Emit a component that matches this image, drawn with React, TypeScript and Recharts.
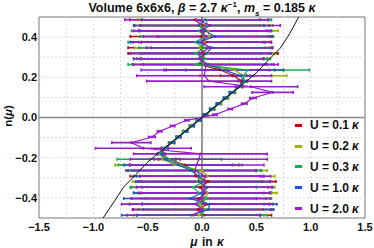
import React from 'react';
import { ScatterChart, Scatter, XAxis, YAxis, ErrorBar, ReferenceLine, ReferenceArea } from 'recharts';

// particle number levels n = (2k+1)/72
const nLevels = [
  -0.486, -0.458, -0.431, -0.403, -0.375, -0.347, -0.319, -0.292, -0.264, -0.236, -0.208, -0.181,
  -0.153, -0.125, -0.097, -0.069, -0.042, -0.014, 0.014, 0.042, 0.069, 0.097, 0.125, 0.153,
  0.181, 0.208, 0.236, 0.264, 0.292, 0.319, 0.347, 0.375, 0.403, 0.431, 0.458, 0.486,
];

const muU01 = [0.02, -0.04, 0.05, -0.03, 0.04, -0.02, 0.06, -0.06, -0.07, -0.16, -0.3, -0.37, -0.34, -0.28, -0.215, -0.155, -0.095, -0.03, 0.03, 0.095, 0.155, 0.22, 0.28, 0.34, 0.37, 0.29, 0.17, -0.02, 0.02, 0.01, -0.02, 0.04, -0.01, 0.03, 0.0, -0.065];
const errU01 = [0.62, 0.6, 0.6, 0.62, 0.6, 0.63, 0.62, 0.6, 0.61, 0.5, 0.1, 0.03, 0.03, 0.025, 0.02, 0.02, 0.02, 0.02, 0.02, 0.02, 0.02, 0.02, 0.025, 0.03, 0.04, 0.12, 0.5, 0.62, 0.58, 0.69, 0.66, 0.6, 0.65, 0.6, 0.62, 0.6];

const muU02 = [-0.03, 0.03, -0.02, 0.04, 0.05, 0.03, -0.04, 0.05, 0.0, -0.25, -0.36, -0.385, -0.35, -0.285, -0.22, -0.16, -0.1, -0.035, 0.035, 0.1, 0.16, 0.225, 0.285, 0.35, 0.39, 0.38, 0.3, 0.04, -0.03, 0.05, -0.02, 0.02, 0.06, 0.06, -0.02, 0.02];
const errU02 = [0.6, 0.62, 0.64, 0.6, 0.64, 0.64, 0.6, 0.62, 0.6, 0.55, 0.12, 0.03, 0.03, 0.025, 0.02, 0.02, 0.02, 0.02, 0.02, 0.02, 0.02, 0.02, 0.025, 0.03, 0.03, 0.4, 0.45, 0.6, 0.6, 0.62, 0.6, 0.6, 0.6, 0.64, 0.55, 0.61];

const muU03 = [0.0, 0.02, -0.05, 0.05, -0.03, -0.08, 0.02, -0.02, -0.05, -0.2, -0.3, -0.38, -0.345, -0.28, -0.22, -0.155, -0.095, -0.03, 0.03, 0.095, 0.155, 0.22, 0.28, 0.345, 0.39, 0.38, 0.42, -0.05, 0.03, -0.06, 0.02, -0.06, 0.03, -0.03, 0.05, 0.04];
const errU03 = [0.6, 0.61, 0.62, 0.58, 0.6, 0.58, 0.6, 0.58, 0.6, 0.57, 0.48, 0.03, 0.03, 0.025, 0.02, 0.02, 0.02, 0.02, 0.02, 0.02, 0.02, 0.02, 0.025, 0.03, 0.03, 0.1, 0.57, 0.63, 0.6, 0.6, 0.6, 0.62, 0.6, 0.62, 0.6, 0.6];

const muU10 = [-0.1, 0.06, 0.07, -0.11, 0.0, 0.05, -0.03, -0.03, -0.1, -0.22, -0.34, -0.375, -0.34, -0.275, -0.215, -0.15, -0.09, -0.03, 0.03, 0.09, 0.15, 0.215, 0.275, 0.34, 0.38, 0.36, 0.2, 0.06, -0.03, 0.04, 0.09, -0.04, 0.12, 0.03, -0.03, 0.03];
const errU10 = [0.64, 0.6, 0.62, 0.61, 0.63, 0.6, 0.58, 0.6, 0.6, 0.5, 0.1, 0.03, 0.03, 0.025, 0.02, 0.02, 0.02, 0.02, 0.02, 0.02, 0.02, 0.02, 0.025, 0.03, 0.03, 0.08, 0.55, 0.6, 0.6, 0.6, 0.56, 0.62, 0.53, 0.61, 0.6, 0.58];

const muU20 = [-0.08, 0.005, -0.06, -0.01, 0.02, 0.02, 0.02, 0.03, -0.065, -0.05, -0.03, -0.015, -0.54, -0.65, -0.46, -0.39, -0.27, -0.14, 0.12, 0.26, 0.39, 0.47, 0.65, 0.45, 0.065, 0.02, 0.03, 0.035, -0.02, -0.02, 0.07, 0.0, 0.04, -0.01, 0.075, -0.05];
const errU20 = [0.61, 0.635, 0.68, 0.64, 0.6, 0.62, 0.61, 0.6, 0.56, 0.62, 0.63, 0.615, 0.44, 0.18, 0.03, 0.02, 0.02, 0.02, 0.02, 0.02, 0.025, 0.03, 0.19, 0.43, 0.575, 0.62, 0.59, 0.665, 0.58, 0.64, 0.58, 0.635, 0.58, 0.62, 0.645, 0.66];

// reference curve n(mu)
const curveMu = [-0.91, -0.81, -0.72, -0.61, -0.5, -0.4, -0.3, -0.2, -0.1, 0, 0.1, 0.2, 0.3, 0.4, 0.5, 0.61, 0.72, 0.81, 0.89];
const curveN = [-0.5, -0.42, -0.345, -0.285, -0.222, -0.176, -0.132, -0.088, -0.044, 0, 0.044, 0.088, 0.132, 0.176, 0.222, 0.285, 0.345, 0.42, 0.5];

const xTicks = [-1.5, -1, -0.5, 0, 0.5, 1, 1.5];
const yTicks = [-0.4, -0.2, 0, 0.2, 0.4];
const xGrid = [-1.25, -1, -0.75, -0.5, -0.25, 0.25, 0.5, 0.75, 1, 1.25];
const yGrid = [-0.4, -0.3, -0.2, -0.1, 0.1, 0.2, 0.3, 0.4];

const series = [
  { label: '0.1', color: '#b40a0a', mu: muU01, err: errU01 },
  { label: '0.2', color: '#9cb000', mu: muU02, err: errU02 },
  { label: '0.3', color: '#10b050', mu: muU03, err: errU03 },
  { label: '1.0', color: '#2058c0', mu: muU10, err: errU10 },
  { label: '2.0', color: '#9a1ccc', mu: muU20, err: errU20 },
];

const curveData = curveMu.map((x, i) => ({ x, y: curveN[i] }));

const font = '"Liberation Sans", Arial, sans-serif';
const fmt = (v: number) => v.toFixed(1).replace('-', '\u2212');

const App = () => {
  return (
    <div style={{ position: 'absolute', left: 0, top: 0, width: 374, height: 248, fontFamily: font }}>
      <ScatterChart width={374} height={248} margin={{ top: 17, right: 9, bottom: 0, left: 0 }}>
        {xGrid.map(v => (
          <ReferenceLine key={'gx' + v} x={v} stroke="#dcdcdc" strokeDasharray="2 2" />
        ))}
        {yGrid.map(v => (
          <ReferenceLine key={'gy' + v} y={v} stroke="#dcdcdc" strokeDasharray="2 2" />
        ))}
        <ReferenceLine y={0} stroke="#888" strokeWidth={1.5} />
        <ReferenceLine x={0} stroke="#333" strokeWidth={1} />
        <XAxis
          type="number"
          dataKey="x"
          domain={[-1.5, 1.5]}
          ticks={xTicks}
          tickFormatter={fmt}
          height={30}
          axisLine={false}
          tickLine={false}
          tickSize={3}
          tickMargin={2}
          tick={{ fontSize: 11, fontWeight: 'bold', fill: '#111', fontFamily: font }}
        />
        <YAxis
          type="number"
          dataKey="y"
          domain={[-0.5, 0.5]}
          ticks={yTicks}
          tickFormatter={fmt}
          width={39}
          axisLine={false}
          tickLine={false}
          tickSize={2}
          tickMargin={0}
          tick={{ fontSize: 11, fontWeight: 'bold', fill: '#111', fontFamily: font }}
        />
        {series.map(s => (
          <Scatter
            key={s.label}
            data={s.mu.map((x, i) => ({ x, y: nLevels[i], err: s.err[i] }))}
            line={{ stroke: s.color, strokeWidth: 1.2 }}
            shape={(p: any) => <circle cx={p.cx} cy={p.cy} r={1.4} fill={s.color} />}
            isAnimationActive={false}
          >
            <ErrorBar dataKey="err" direction="x" width={1.5} stroke={s.color} strokeWidth={1.6} isAnimationActive={false} />
          </Scatter>
        ))}
        <Scatter
          data={curveData}
          line={{ stroke: '#111', strokeWidth: 1 }}
          shape={() => <g />}
          isAnimationActive={false}
        />
        <ReferenceArea x1={-1.5} x2={1.5} y1={-0.5} y2={0.5} fill="none" stroke="#777" strokeWidth={1} />
      </ScatterChart>

      <div style={{ position: 'absolute', left: 0, top: 2, width: 404, textAlign: 'center', fontSize: 12.5, lineHeight: 1, fontWeight: 'bold', color: '#111', whiteSpace: 'nowrap' }}>
        Volume 6x6x6, <i>β</i> = 2.7 <i>κ</i><sup style={{ fontSize: 8, lineHeight: 0 }}>−1</sup>, <i>m</i><sub style={{ fontSize: 8, lineHeight: 0 }}><i>s</i></sub> = 0.185 <i>κ</i>
      </div>

      <div style={{ position: 'absolute', left: 0, top: 236, width: 414, textAlign: 'center', fontSize: 12, lineHeight: 1, fontWeight: 'bold', color: '#111', wordSpacing: 1 }}>
        <i>μ</i> in <i>κ</i>
      </div>

      <div style={{ position: 'absolute', left: 9, top: 116, width: 0, height: 0 }}>
        <div style={{ position: 'absolute', transform: 'translate(-50%, -50%) rotate(-90deg)', fontSize: 11.5, lineHeight: 1, fontWeight: 'bold', color: '#111', whiteSpace: 'nowrap' }}>
          n(<i>μ</i>)
        </div>
      </div>

      <div style={{ position: 'absolute', left: 295, top: 115 }}>
        {series.map(s => (
          <div key={s.label} style={{ display: 'flex', alignItems: 'center', height: 20.8, fontSize: 12, fontWeight: 'bold', color: '#111', whiteSpace: 'nowrap' }}>
            <span style={{ display: 'inline-block', width: 7, height: 3, background: s.color, marginRight: 8 }} />
            U = {s.label} <i style={{ marginLeft: 3 }}>κ</i>
          </div>
        ))}
      </div>
    </div>
  );
};

export default App;
